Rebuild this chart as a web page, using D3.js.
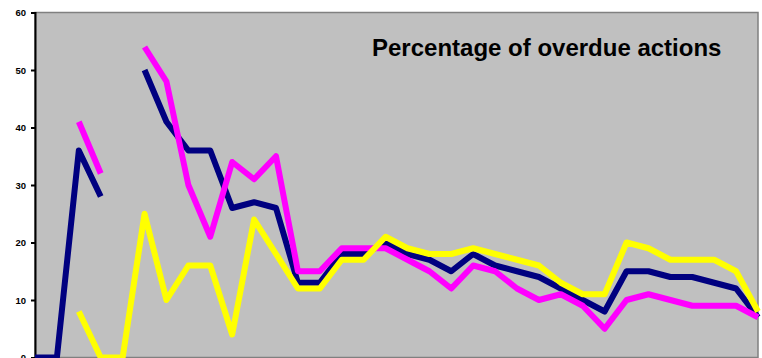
<!DOCTYPE html>
<html>
<head>
<meta charset="utf-8">
<script src="https://cdn.jsdelivr.net/npm/d3@7"></script>
<style>
  html, body { margin: 0; padding: 0; background: #ffffff; }
  svg { display: block; }
  text { font-family: Arial, "Liberation Sans", sans-serif; }
</style>
</head>
<body>
<svg id="chart" width="762" height="358"></svg>
<script>
// Reporting periods (unlabelled on the chart)
const periods = d3.range(1, 35);

// Percentage of overdue actions per period, three series (null = no data)
const navySeries = [0, 0, 36, 28, null, 50, 41, 36, 36, 26, 27, 26, 13, 13, 18, 18, 20, 18, 17, 15,
                    18, 16, 15, 14, 12, 10, 8, 15, 15, 14, 14, 13, 12, 7];
const magentaSeries = [null, null, 41, 32, null, 54, 48, 30, 21, 34, 31, 35, 15, 15, 19, 19, 19, 17, 15, 12,
                       16, 15, 12, 10, 11, 9, 5, 10, 11, 10, 9, 9, 9, 7];
const yellowSeries = [null, null, 8, 0, 0, 25, 10, 16, 16, 4, 24, 18, 12, 12, 17, 17, 21, 19, 18, 18,
                      19, 18, 17, 16, 13, 11, 11, 20, 19, 17, 17, 17, 15, 8];

const yTicks = [0, 10, 20, 30, 40, 50, 60];
const titleText = "Percentage of overdue actions";

const svg = d3.select("#chart");
const plot = { left: 35, right: 758, top: 12.5, bottom: 357.5 };

const x = d3.scalePoint().domain(periods).range([plot.left, plot.right]).padding(0);
const y = d3.scaleLinear().domain([0, 60]).range([plot.bottom, plot.top]);

// Plot area background and border
svg.append("rect")
  .attr("x", plot.left).attr("y", plot.top)
  .attr("width", plot.right - plot.left).attr("height", plot.bottom - plot.top)
  .attr("fill", "#c0c0c0")
  .attr("stroke", "#808080").attr("stroke-width", 1.5);

// Y axis
const yAxis = d3.axisLeft(y).tickValues(yTicks).tickSize(4).tickPadding(5);
const gy = svg.append("g").attr("transform", `translate(${plot.left},0)`).call(yAxis);
gy.select(".domain").attr("stroke", "#000").attr("stroke-width", 2);
gy.selectAll(".tick line").attr("stroke", "#000").attr("stroke-width", 2);
gy.selectAll(".tick text")
  .attr("fill", "#000")
  .style("font-size", "9.5px")
  .style("font-weight", "bold")
  .style("font-family", "Arial, 'Liberation Sans', sans-serif");

// Series lines
const line = d3.line()
  .defined(d => d.v != null)
  .x(d => x(d.p))
  .y(d => y(d.v));

const series = [
  { values: navySeries, color: "#000080" },
  { values: magentaSeries, color: "#ff00ff" },
  { values: yellowSeries, color: "#ffff00" }
];

svg.append("g").selectAll("path")
  .data(series)
  .join("path")
  .attr("d", s => line(s.values.map((v, i) => ({ p: periods[i], v }))))
  .attr("fill", "none")
  .attr("stroke", s => s.color)
  .attr("stroke-width", 6)
  .attr("stroke-linejoin", "round")
  .attr("stroke-linecap", "butt");

// Title
svg.append("text")
  .attr("x", 372)
  .attr("y", 56)
  .style("font-size", "24px")
  .style("font-weight", "bold")
  .attr("fill", "#000")
  .text(titleText);
</script>
</body>
</html>
